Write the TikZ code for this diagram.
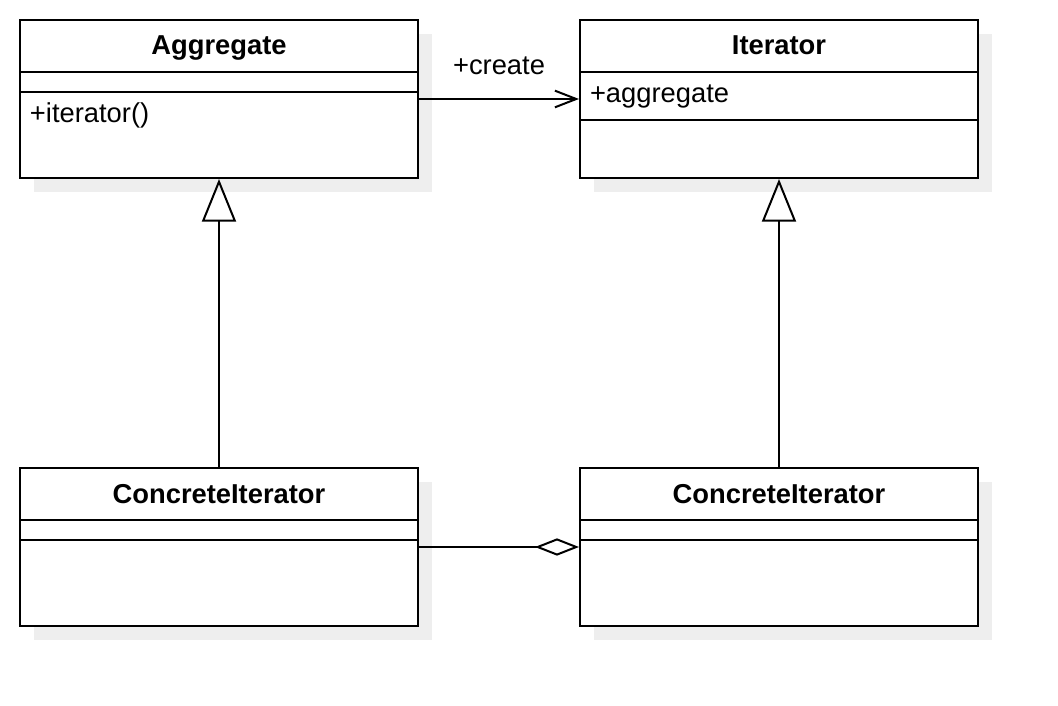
\documentclass[tikz,border=0pt]{standalone}
\usepackage{fontspec}
\setmainfont{Liberation Sans}
\usetikzlibrary{arrows.meta}
\definecolor{shadowgray}{HTML}{EEEEEE}

\begin{document}
\begin{tikzpicture}[x=0.75pt,y=-0.75pt,line width=1.5pt,
  classbox/.style={draw,fill=white,minimum width=298.5pt,minimum height=118.5pt,inner sep=0pt},
  classname/.style={font=\fontsize{20.5}{24}\selectfont\bfseries,inner sep=0pt,anchor=base},
  member/.style={font=\fontsize{20.5}{24}\selectfont,inner sep=0pt,anchor=base west}]
  \useasboundingbox (0,0) rectangle (1058,706);
  % shadows
  \foreach \x/\y in {34/34, 594/34, 34/482, 594/482}
    \fill[shadowgray] (\x,\y) rectangle ++(398,158);
  % classes
  \node[classbox] (agg) at (219,99) {};
  \node[classbox] (it) at (779,99) {};
  \node[classbox] (ci1) at (219,547) {};
  \node[classbox] (ci2) at (779,547) {};
  \draw (20,72) -- (418,72) (20,92) -- (418,92);
  \draw (580,72) -- (978,72) (580,120) -- (978,120);
  \draw (20,520) -- (418,520) (20,540) -- (418,540);
  \draw (580,520) -- (978,520) (580,540) -- (978,540);
  \node[classname] (aggname) at (219,55) {Aggregate};
  \node[classname] (itname) at (779,55) {Iterator};
  \node[classname] (ci1name) at (219,503) {ConcreteIterator};
  \node[classname] (ci2name) at (779,503) {ConcreteIterator};
  \node[member] (aggop) at (29,123) {+iterator()};
  \node[member] (itattr) at (589,103) {+aggregate};
  % relations
  \path
    (agg) edge[-{Straight Barb[length=16pt,width=12.5pt]}] node[anchor=base,yshift=18pt,inner sep=0pt,font=\fontsize{20.5}{24}\selectfont] {+create} (it)
    (ci1) edge[-{Triangle[open,length=32pt,width=25.5pt]}] (agg)
          edge[-{Diamond[open,length=33pt,width=13pt]}] (ci2)
    (ci2) edge[-{Triangle[open,length=32pt,width=25.5pt]}] (it);
\end{tikzpicture}
\end{document}
